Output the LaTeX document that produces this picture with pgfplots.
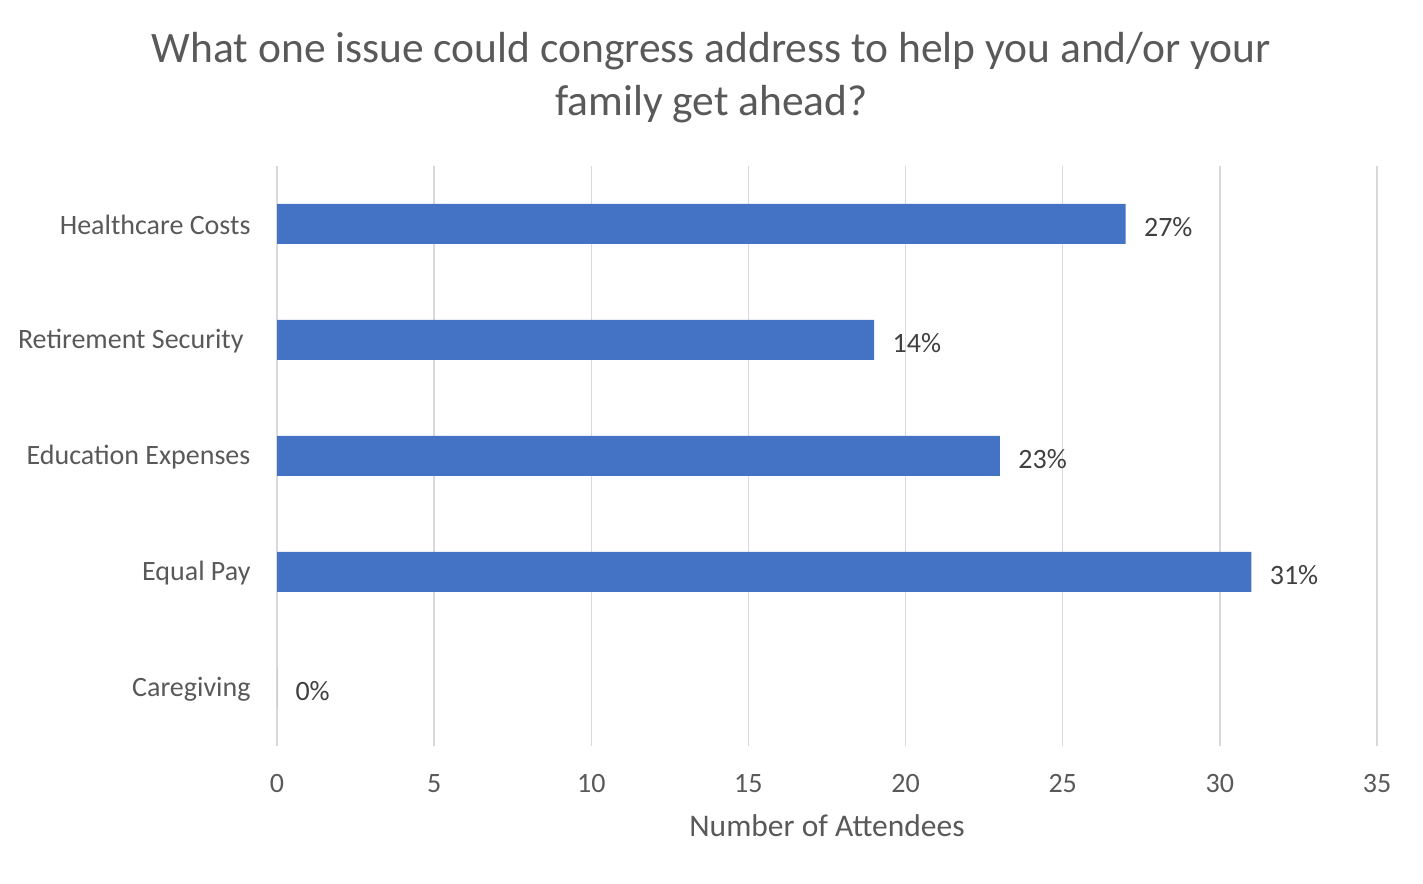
\documentclass[border=0pt]{standalone}
\usepackage{pgfplots}
\pgfplotsset{compat=1.18}
\usepackage{fontspec}
\setmainfont{Carlito}
\definecolor{barblue}{HTML}{4472C4}
\definecolor{txtgray}{HTML}{595959}
\definecolor{lblgray}{HTML}{404040}
\definecolor{gridgray}{HTML}{D9D9D9}
\begin{document}
\begin{tikzpicture}
\path[use as bounding box] (0,0) rectangle (1423bp,884bp);
\begin{axis}[
 at={(277bp,138bp)}, anchor=south west,
 scale only axis, width=1100bp, height=580bp,
 xbar, bar width=40bp,
 xmin=0, xmax=35, ymin=-0.5, ymax=4.5,
 xtick={0,5,...,35},
 ytick={0,1,2,3,4},
 yticklabels={Caregiving, Equal Pay, Education Expenses, Retirement Security\kern7bp, Healthcare Costs},
 axis line style={draw=none},
 major tick length=0pt,
 xmajorgrids, grid style={gridgray, line width=1.3bp},
 tick label style={font=\fontsize{28bp}{33bp}\selectfont, text=txtgray},
 xticklabel style={yshift=-25bp},
 yticklabel style={xshift=-23bp, yshift=-1bp},
 /pgf/number format/assume math mode=true,
 xlabel={Number of Attendees},
 xlabel style={font=\fontsize{31.5bp}{36bp}\selectfont, text=txtgray, at={(axis description cs:0.5,0)}, anchor=center, yshift=-80bp},
 title={What one issue could congress address to help you and/or your\\family get ahead?},
 title style={font=\fontsize{43.5bp}{53bp}\selectfont, text=txtgray, align=center, at={(axis description cs:0.395,1)}, anchor=center, yshift=82bp},
 nodes near coords, point meta=explicit symbolic,
 every node near coord/.append style={font=\fontsize{28bp}{33bp}\selectfont, text=lblgray, anchor=west, xshift=15bp, yshift=-3bp},
]
\addplot[fill=barblue, draw=none] coordinates {(27,4)[27\%] (19,3)[14\%] (23,2)[23\%] (31,1)[31\%] (0,0)[0\%]};
\end{axis}
\end{tikzpicture}
\end{document}
